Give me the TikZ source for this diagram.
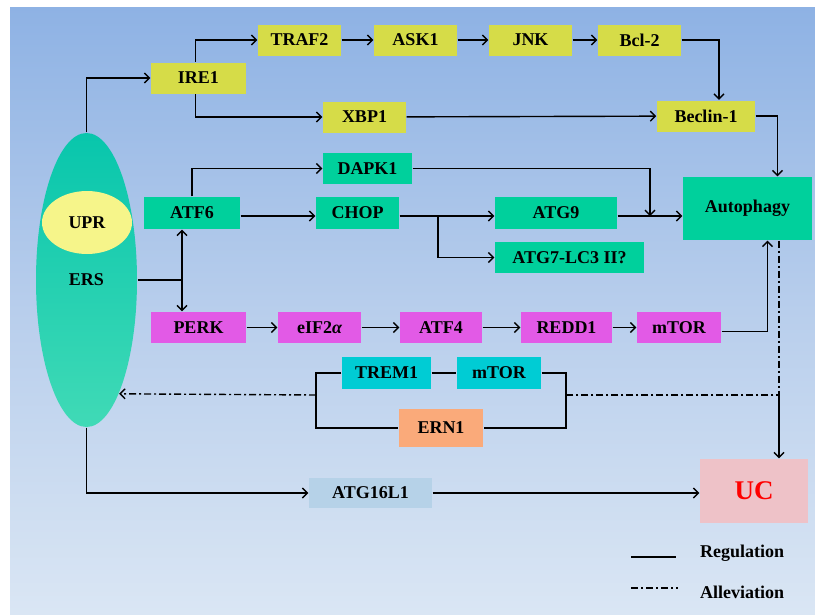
\documentclass[tikz,border=0pt]{standalone}
\usepackage{fontspec}
\setmainfont{Liberation Serif}
\usetikzlibrary{arrows.meta,shapes.geometric}

\definecolor{ylwfill}{RGB}{214,220,72}
\definecolor{grnfill}{RGB}{0,208,156}
\definecolor{pnkfill}{RGB}{226,90,230}
\definecolor{cynfill}{RGB}{0,204,212}
\definecolor{orgfill}{RGB}{250,170,122}
\definecolor{bluefill}{RGB}{182,210,232}
\definecolor{ucfill}{RGB}{238,194,200}
\definecolor{uprfill}{RGB}{246,245,138}

\tikzset{
  box/.style={inner sep=0pt, minimum height=31pt, font=\bfseries\fontsize{18}{20}\selectfont},
  ylwbox/.style={box, fill=ylwfill},
  grnbox/.style={box, fill=grnfill},
  pnkbox/.style={box, fill=pnkfill},
  cynbox/.style={box, fill=cynfill},
  alleviate/.style={dash pattern=on 7pt off 3pt on 2pt off 3pt},
}

\begin{document}
\begin{tikzpicture}[x=1pt, y=-1pt, line width=1.4pt, >={Straight Barb[length=5pt,width=10pt]}]
\useasboundingbox (0,0) rectangle (815,614);
\fill[white] (0,0) rectangle (815,614);
\shade[top color={rgb,255:red,142;green,178;blue,228}, bottom color={rgb,255:red,218;green,230;blue,244}, middle color={rgb,255:red,184;green,206;blue,236}] (10,7) rectangle (815,614);

% ER stress
\node[ellipse, inner sep=0pt, minimum width=101pt, minimum height=294pt, top color={rgb,255:red,8;green,198;blue,172}, bottom color={rgb,255:red,64;green,218;blue,182}, font=\bfseries\fontsize{18}{20}\selectfont] (ers) at (86.5,280) {ERS};
\node[ellipse, inner sep=0pt, minimum width=90pt, minimum height=63pt, fill=uprfill, font=\bfseries\fontsize{18}{20}\selectfont] (upr) at (87,222.5) {UPR};

% IRE1 branch
\node[ylwbox, minimum width=95pt] (ire1) at (198.5,78) {IRE1};
\node[ylwbox, minimum width=83pt] (traf2) at (299.5,40) {TRAF2};
\node[ylwbox, minimum width=83pt] (ask1) at (415.5,40) {ASK1};
\node[ylwbox, minimum width=83pt] (jnk) at (530.5,40) {JNK};
\node[ylwbox, minimum width=83pt] (bcl2) at (639.5,40) {Bcl-2};
\node[ylwbox, minimum width=83pt] (xbp1) at (364.5,117) {XBP1};
\node[ylwbox, minimum width=98pt] (beclin) at (706,116) {Beclin-1};

% ATF6 branch
\node[grnbox, minimum width=96pt, minimum height=32pt] (atf6) at (192,213) {ATF6};
\node[grnbox, minimum width=89pt] (dapk1) at (367.5,168.5) {DAPK1};
\node[grnbox, minimum width=83pt, minimum height=32pt] (chop) at (357.5,213) {CHOP};
\node[grnbox, minimum width=122pt, minimum height=32pt] (atg9) at (556,213) {ATG9};
\node[grnbox, minimum width=149pt] (atg7) at (569.5,257.5) {ATG7-LC3 II?};
\node[grnbox, minimum width=129pt, minimum height=63pt] (autophagy) at (747.5,208.5) {Autophagy};

% PERK branch
\node[pnkbox, minimum width=95pt] (perk) at (198.5,327.5) {PERK};
\node[pnkbox, minimum width=83pt] (eif2a) at (319.5,327.5) {eIF2{\itshape α}};
\node[pnkbox, minimum width=82pt] (atf4) at (441,327.5) {ATF4};
\node[pnkbox, minimum width=91pt] (redd1) at (566.5,327.5) {REDD1};
\node[pnkbox, minimum width=84pt] (mtor) at (679,327.5) {mTOR};

% alleviation group
\node[cynbox, minimum width=89pt, minimum height=32pt] (trem1) at (386.5,373) {TREM1};
\node[cynbox, minimum width=84pt, minimum height=32pt] (mtorb) at (499,373) {mTOR};
\node[box, fill=orgfill, minimum width=84pt, minimum height=38pt] (ern1) at (441,428) {ERN1};

\node[box, fill=bluefill, minimum width=123pt, minimum height=30pt] (atg16) at (370.5,493) {ATG16L1};
\node[box, fill=ucfill, minimum width=108pt, minimum height=64pt, text=red, font=\bfseries\fontsize{27}{30}\selectfont] (uc) at (754,491) {UC};

\coordinate (split) at (182,280);
\coordinate (branch) at (438,216);
\coordinate (join) at (650,216);
\coordinate (lbr) at (316,395);
\coordinate (rbr) at (566,395);
\coordinate (cross) at (779,395);

\draw[->] (ers.north) |- (ire1.west);
\draw[->] ([xshift=-3pt]ire1.north) |- (traf2.west);
\draw[->] ([xshift=-3pt]ire1.south) |- (xbp1.west);
\draw[->] (traf2) -- (ask1);
\draw[->] (ask1) -- (jnk);
\draw[->] (jnk) -- (bcl2);
\draw[->] (bcl2.east) -| ([xshift=13pt]beclin.north);
\draw[->] (xbp1) -- (beclin);
\draw[->] (beclin.east) -| ([xshift=30pt]autophagy.north);

\draw (ers.east |- split) -- (split);
\draw[<->] (atf6.south -| split) -- (perk.north -| split);
\draw[->] (atf6.north) |- (dapk1.west);
\draw[->] ([yshift=-3pt]atf6.east) -- ([yshift=-3pt]chop.west);
\draw[->] ([yshift=-3pt]chop.east) -- ([yshift=-3pt]atg9.west);
\draw[->] (branch) |- (atg7.west);
\draw[->] (dapk1.east) -| (join);
\draw[->] ([yshift=-3pt]atg9.east) -- ([yshift=-3pt]atg9.east -| autophagy.west);

\draw[->] (perk) -- (eif2a);
\draw[->] (eif2a) -- (atf4);
\draw[->] (atf4) -- (redd1);
\draw[->] (redd1) -- (mtor);
\draw[->] ([yshift=-4pt]mtor.east) -| ([xshift=20pt]autophagy.south);

\draw (trem1) -- (mtorb);
\draw (trem1.west) -| (lbr) |- (ern1.west);
\draw (mtorb.east) -| (rbr) |- (ern1.east);
\draw[alleviate, ->] (lbr) -- (ers.-74.7);
\draw[alleviate] ([xshift=31.5pt]autophagy.south) -- (cross) -- (rbr);
\draw[->] (cross) -- (cross |- uc.north);

\draw[->] (ers.south) |- (atg16.west);
\draw[->] (atg16.east) -- (atg16.east -| uc.west);

% legend
\draw (631,557) -- (676,557);
\draw[alleviate] (631,588) -- (678,588);
\node[anchor=west, font=\bfseries\fontsize{18}{20}\selectfont] (reg) at (696,553) {Regulation};
\node[anchor=west, font=\bfseries\fontsize{18}{20}\selectfont] (alle) at (696,592) {Alleviation};

\end{tikzpicture}
\end{document}
